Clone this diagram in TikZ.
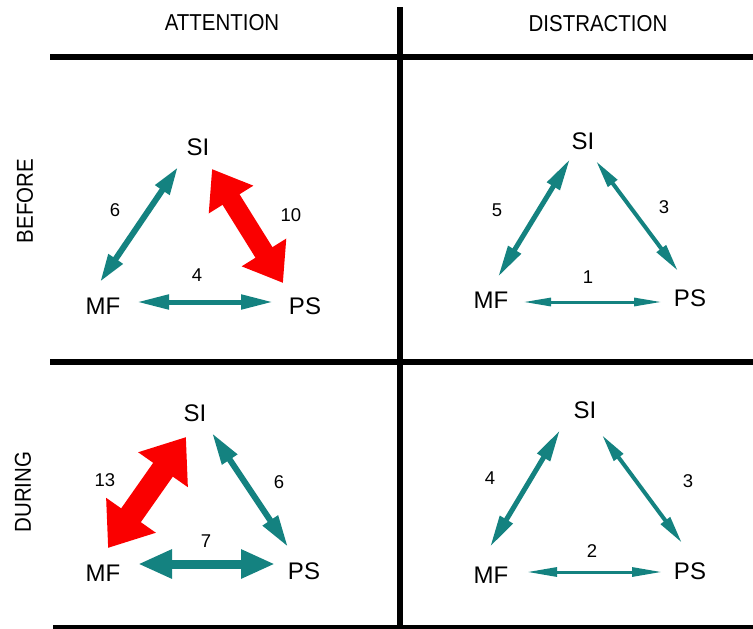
\documentclass[tikz,border=0pt]{standalone}
\usepackage{fontspec}
\setmainfont{Liberation Sans}
\newfontfamily\headfont[FakeStretch=0.89]{Liberation Sans}
\usetikzlibrary{arrows.meta, calc}
\definecolor{arrteal}{RGB}{20, 130, 128}
\definecolor{arrred}{RGB}{250, 0, 0}

\tikzset{
    vertex/.style={inner sep=0pt, font=\fontsize{24}{24}\selectfont},
    weight/.style={inner sep=0pt, font=\fontsize{18.5}{18.5}\selectfont},
    heading/.style={inner sep=0pt, font=\headfont\fontsize{23}{23}\selectfont},
    rule/.style={line width=6pt},
    link/.style n args={3}{line width=#1, <->, >={Triangle[length=#3, width=#2]}},
}

\begin{document}
\begin{tikzpicture}[x=1pt, y=-1pt]
            \useasboundingbox (0,0) rectangle (753,629);

            % griglia
            \draw[rule] (400,7) -- (400,629);
            \draw[rule] (50,57) -- (753,57);
            \draw[rule] (50,362) -- (753,362);
            \draw[rule] (53,628) -- (753,628);

            \node[heading] (att) at (222,23) {ATTENTION};
            \node[heading] (dis) at (598,24) {DISTRACTION};
            \node[heading, rotate=90] (bef) at (25,201) {BEFORE};
            \node[heading, rotate=90] (dur) at (23,492) {DURING};

            % before, attention
            \node[vertex] (si1) at (198,147) {SI};
            \node[vertex] (mf1) at (103,306) {MF};
            \node[vertex] (ps1) at (305,306) {PS};
            \draw[arrteal, link={6pt}{16pt}{28pt}] ($(si1)+(-20,20)$) -- ($(mf1)+(-3,-24)$);
            \draw[arrred, link={20pt}{50pt}{36pt}] ($(si1)+(14,22)$) -- ($(ps1)+(-22,-23)$);
            \draw[arrteal, link={5pt}{14pt}{32pt}] ($(mf1)+(34,-4)$) -- ($(ps1)+(-32,-4)$);
            \node[weight] (w1a) at (115,210) {6};
            \node[weight] (w1b) at (291,215) {10};
            \node[weight] (w1c) at (197,275) {4};

            % before, distraction
            \node[vertex] (si2) at (583,141) {SI};
            \node[vertex] (mf2) at (491,300) {MF};
            \node[vertex] (ps2) at (690,298) {PS};
            \draw[arrteal, link={5pt}{14pt}{32pt}] ($(si2)+(-13,18)$) -- ($(mf2)+(7,-23)$);
            \draw[arrteal, link={4pt}{11pt}{28pt}] ($(si2)+(13,20)$) -- ($(ps2)+(-12,-27)$);
            \draw[arrteal, link={3pt}{8pt}{28pt}] ($(mf2)+(32,2)$) -- ($(ps2)+(-28,4)$);
            \node[weight] (w2a) at (497,210) {5};
            \node[weight] (w2b) at (664,207) {3};
            \node[weight] (w2c) at (588,277) {1};

            % during, attention
            \node[vertex] (si3) at (195,413) {SI};
            \node[vertex] (mf3) at (103,573) {MF};
            \node[vertex] (ps3) at (304,571) {PS};
            \draw[arrred, link={24pt}{58pt}{40pt}] ($(si3)+(-9,24)$) -- ($(mf3)+(5,-25)$);
            \draw[arrteal, link={6pt}{17pt}{32pt}] ($(si3)+(17,20)$) -- ($(ps3)+(-16,-24)$);
            \draw[arrteal, link={9pt}{27pt}{34pt}] ($(mf3)+(35,-9)$) -- ($(ps3)+(-29,-7)$);
            \node[weight] (w3a) at (105,480) {13};
            \node[weight] (w3b) at (279,482) {6};
            \node[weight] (w3c) at (206,541) {7};

            % during, distraction
            \node[vertex] (si4) at (585,410) {SI};
            \node[vertex] (mf4) at (491,575) {MF};
            \node[vertex] (ps4) at (690,571) {PS};
            \draw[arrteal, link={5pt}{14pt}{32pt}] ($(si4)+(-25,20)$) -- ($(mf4)+(-1,-28)$);
            \draw[arrteal, link={4pt}{11pt}{28pt}] ($(si4)+(17,25)$) -- ($(ps4)+(-8,-28)$);
            \draw[arrteal, link={3pt}{9pt}{30pt}] ($(mf4)+(36,-3)$) -- ($(ps4)+(-28,1)$);
            \node[weight] (w4a) at (490,478) {4};
            \node[weight] (w4b) at (688,481) {3};
            \node[weight] (w4c) at (592,551) {2};
        \end{tikzpicture}
\end{document}
